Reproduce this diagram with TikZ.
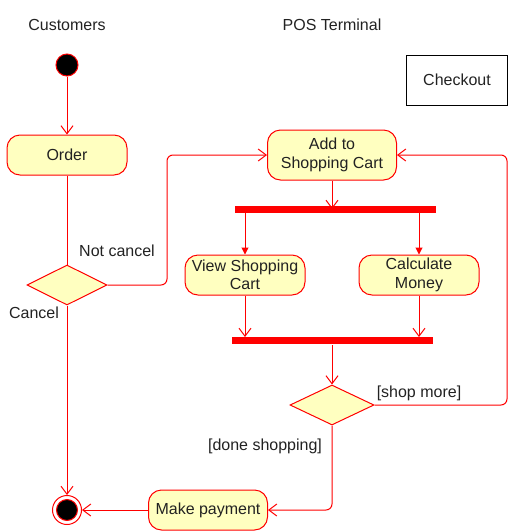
\documentclass[tikz,border=0pt]{standalone}
\usepackage{fontspec}
\setmainfont{Liberation Sans}
\usetikzlibrary{arrows.meta,shapes.geometric}
\definecolor{lred}{HTML}{FF0000}
\definecolor{lfill}{HTML}{FFFFC0}
\definecolor{txt}{HTML}{222222}
\begin{document}
\begin{tikzpicture}[x=1pt,y=-1pt,
  every node/.style={font=\fontsize{16}{18.5}\selectfont, text=txt},
  action/.style={draw=lred, fill=lfill, rounded corners=13pt, minimum width=120pt, align=center, inner sep=0pt, line width=1pt},
  decision/.style={draw=lred, fill=lfill, diamond, aspect=2, minimum width=80pt, minimum height=40pt, inner sep=0pt, line width=1pt},
  bar/.style={draw=lred, fill=lred, minimum width=200pt, minimum height=6pt, inner sep=0pt},
  flow/.style={color=lred, line width=1pt, -{Straight Barb[length=8pt,width=12pt,line width=1pt]}},
  fflow/.style={color=lred, line width=1pt, -{Triangle[length=7pt,width=7pt]}},
  plain/.style={color=lred, line width=1pt},
  lbl/.style={inner sep=0pt}
]
\useasboundingbox (0,0) rectangle (518,531);
\node[lbl] (hcust) at (67,25) {Customers};
\node[lbl] (hpos) at (332,25) {POS Terminal};
\node[draw=black, line width=1pt, minimum width=101pt, minimum height=50pt, inner sep=0pt] (checkout) at (457,80) {Checkout};

\node[circle, draw=lred, fill=black, minimum size=22pt, inner sep=0pt, line width=1pt] (start) at (67,65) {};
\node[action, minimum height=40pt] (order) at (67,155) {Order};
\node[decision] (d1) at (67,285) {};
\node[circle, draw=lred, fill=white, minimum size=29pt, inner sep=0pt, line width=1pt] (final) at (67,510) {};
\node[circle, draw=lred, fill=black, minimum size=21pt, inner sep=0pt, line width=1pt] (finalin) at (67,510) {};

\node[action, minimum width=129pt, minimum height=50pt] (add) at (332,155) {Add to\\Shopping Cart};
\node[bar] (fork) at (335,209) {};
\node[action, minimum height=40pt] (view) at (245,275) {View Shopping\\Cart};
\node[action, minimum height=40pt] (calc) at (419,275) {Calculate\\Money};
\node[bar] (join) at (332,340) {};
\node[decision, minimum width=84pt] (d2) at (332,405) {};
\node[action, minimum width=119pt, minimum height=40pt] (pay) at (208,510) {Make payment};

\node[lbl] (lnot) at (117,251) {Not cancel};
\node[lbl] (lcancel) at (34,313) {Cancel};
\node[lbl] (lshop) at (419,393) {[shop more]};
\node[lbl] (ldone) at (265,446) {[done shopping]};

\coordinate (c1) at (167,285);
\coordinate (c2) at (167,155);
\coordinate (c3) at (507,405);
\coordinate (c4) at (507,155);
\coordinate (c5) at (332,510);

\draw[flow] (start) -- (order);
\draw[plain] (order) -- (d1);
\draw[flow, rounded corners=6pt] (d1.east) -- (c1) -- (c2) -- (add.west);
\draw[flow] (d1.south) -- (final.north);
\draw[flow] (add.south) -- (332,209);
\draw[fflow] (245,212) -- (view.north);
\draw[fflow] (419,212) -- (calc.north);
\draw[flow] (view.south) -- (245,337);
\draw[flow] (calc.south) -- (419,337);
\draw[flow] (332,345) -- (d2.north);
\draw[flow, rounded corners=6pt] (d2.east) -- (c3) -- (c4) -- (add.east);
\draw[flow, rounded corners=6pt] (d2.south) -- (c5) -- (pay.east);
\draw[flow] (pay.west) -- (final.east);
\end{tikzpicture}
\end{document}
